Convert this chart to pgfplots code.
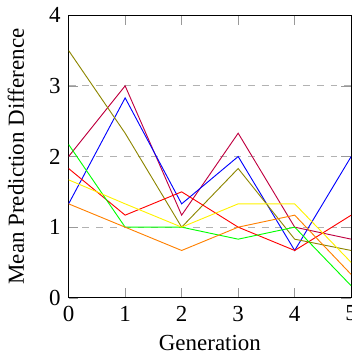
\documentclass[border=0pt]{standalone}
\usepackage{pgfplots}
\pgfplotsset{compat=1.18}
\usepackage{fontspec}
\setmainfont{Liberation Serif}
\begin{document}
\begin{tikzpicture}[trim axis right]
\begin{axis}[
  width=123pt, height=123pt, scale only axis,
  xmin=0, xmax=5, ymin=0, ymax=4,
  xtick={0,1,2,3,4,5}, ytick={0,1,2,3,4},
  ymajorgrids, major grid style={dashed, gray!60},
  xlabel={Generation}, ylabel={Mean Prediction Difference},
  ylabel shift=4pt, xlabel shift=-1pt,
  /pgf/number format/assume math mode=true,
  tick style={gray!80},
  every axis plot/.append style={line width=0.4pt},
]
\addplot[purple] coordinates {(0,2.0) (1,3.0) (2,1.17) (3,2.33) (4,1.0) (5,0.83)};
\addplot[blue] coordinates {(0,1.33) (1,2.83) (2,1.33) (3,2.0) (4,0.67) (5,2.0)};
\addplot[olive] coordinates {(0,3.5) (1,2.33) (2,1.0) (3,1.83) (4,0.83) (5,0.67)};
\addplot[red] coordinates {(0,1.83) (1,1.17) (2,1.5) (3,1.0) (4,0.67) (5,1.17)};
\addplot[green] coordinates {(0,2.17) (1,1.0) (2,1.0) (3,0.83) (4,1.0) (5,0.17)};
\addplot[orange] coordinates {(0,1.33) (1,1.0) (2,0.67) (3,1.0) (4,1.17) (5,0.33)};
\addplot[yellow] coordinates {(0,1.67) (1,1.33) (2,1.0) (3,1.33) (4,1.33) (5,0.5)};
\end{axis}
\end{tikzpicture}
\end{document}
